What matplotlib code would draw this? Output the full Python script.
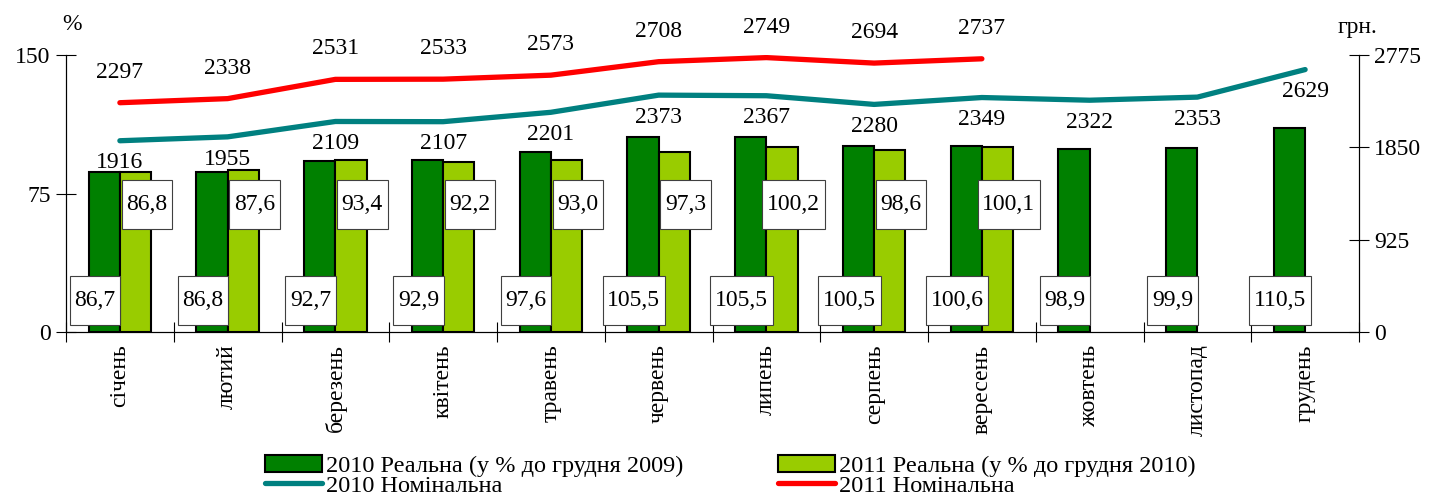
import matplotlib
matplotlib.use("Agg")
import matplotlib.pyplot as plt
from matplotlib.patches import Patch
from matplotlib.lines import Line2D
from matplotlib.path import Path
import numpy as np

plt.rcParams["font.family"] = ["Liberation Serif", "DejaVu Serif"]

months = ["січень", "лютий", "березень", "квітень", "травень", "червень",
          "липень", "серпень", "вересень", "жовтень", "листопад", "грудень"]
real_2010 = [86.7, 86.8, 92.7, 92.9, 97.6, 105.5, 105.5, 100.5, 100.6, 98.9, 99.9, 110.5]
real_2011 = [86.8, 87.6, 93.4, 92.2, 93.0, 97.3, 100.2, 98.6, 100.1]
nominal_2010 = [1916, 1955, 2109, 2107, 2201, 2373, 2367, 2280, 2349, 2322, 2353, 2629]
nominal_2011 = [2297, 2338, 2531, 2533, 2573, 2708, 2749, 2694, 2737]

DARK = "#008000"
LIGHT = "#99CC00"
TEAL = "#008080"
RED = "#FF0000"
FS = 17


def tall_box(x0, y0, width, height, mutation_size):
    # square box, little padding at the sides, more above and below
    px, py = 0.2 * mutation_size, 0.6 * mutation_size
    x0, y0 = x0 - px, y0 - py
    x1, y1 = x0 + width + 2 * px, y0 + height + 2 * py
    return Path([(x0, y0), (x1, y0), (x1, y1), (x0, y1), (x0, y0)], closed=True)


fig = plt.figure(figsize=(14.29, 4.97), dpi=100)
ax = fig.add_axes([66 / 1429, 165 / 497, 1293 / 1429, 277 / 497])
ax2 = ax.twinx()

x = np.arange(len(months))
x11 = np.arange(len(real_2011))
w = 0.29
ax.bar(x - w / 2, real_2010, w, color=DARK, edgecolor="black", linewidth=1.5, zorder=2)
ax.bar(x11 + w / 2, real_2011, w, color=LIGHT, edgecolor="black", linewidth=1.5, zorder=2)

box = dict(boxstyle=tall_box, facecolor="white", edgecolor="#404040", linewidth=0.8)
for xi, v in zip(x, real_2010):
    ax.text(xi - 0.23, 17.0, f"{v:.1f}".replace(".", ","), ha="center", va="center",
            fontsize=FS, bbox=box, zorder=4)
for xi, v in zip(x11, real_2011):
    ax.text(xi + 0.25, 69.0, f"{v:.1f}".replace(".", ","), ha="center", va="center",
            fontsize=FS, bbox=box, zorder=4)

ax2.plot(x, nominal_2010, color=TEAL, lw=3.8, solid_capstyle="round", solid_joinstyle="round", zorder=3)
ax2.plot(x11, nominal_2011, color=RED, lw=3.8, solid_capstyle="round", solid_joinstyle="round", zorder=3)
for xi, v in zip(x, nominal_2010):
    ax2.annotate(str(v), (xi, v), xytext=(0, -16), textcoords="offset points",
                 ha="center", va="center", fontsize=FS)
for xi, v in zip(x11, nominal_2011):
    ax2.annotate(str(v), (xi, v), xytext=(0, 22), textcoords="offset points",
                 ha="center", va="center", fontsize=FS)

ax.set_xlim(-0.5, len(months) - 0.5)
ax.set_ylim(0, 150)
ax2.set_ylim(0, 2775)
ax.set_yticks([0, 75, 150])
ax2.set_yticks([0, 925, 1850, 2775])
ax.set_xticks(x)
ax.set_xticklabels(months, rotation=90, fontsize=FS)
ax.set_xticks(np.arange(-0.5, len(months)), minor=True)
ax.tick_params(axis="x", which="major", length=0, pad=9)
ax.tick_params(axis="x", which="minor", direction="inout", length=14, width=0.8)
ax.tick_params(axis="y", direction="inout", length=14, width=0.8, labelsize=FS, pad=4)
ax2.tick_params(axis="y", direction="inout", length=14, width=0.8, labelsize=FS, pad=4)
for a in (ax, ax2):
    a.spines["top"].set_visible(False)
    for s in ("left", "right", "bottom"):
        a.spines[s].set_linewidth(0.8)

fig.text(72 / 1429, 1 - 25 / 497, "%", ha="center", va="center", fontsize=FS)
fig.text(1357 / 1429, 1 - 27 / 497, "грн.", ha="center", va="center", fontsize=FS)

handles = [
    Patch(facecolor=DARK, edgecolor="black", linewidth=1.5),
    Line2D([], [], color=TEAL, lw=3.8, solid_capstyle="round"),
    Patch(facecolor=LIGHT, edgecolor="black", linewidth=1.5),
    Line2D([], [], color=RED, lw=3.8, solid_capstyle="round"),
]
labels = ["2010 Реальна (у % до грудня 2009)", "2010 Номінальна",
          "2011 Реальна (у % до грудня 2010)", "2011 Номінальна"]
fig.legend(handles, labels, ncol=2, loc="upper left", bbox_to_anchor=(265 / 1429, 1 - 455 / 497),
           frameon=False, fontsize=17.5, borderpad=0, borderaxespad=0, handlelength=2.35,
           handleheight=0.7, handletextpad=0.15, labelspacing=-0.1, columnspacing=3.9)

fig.savefig("out.png", dpi=100)
